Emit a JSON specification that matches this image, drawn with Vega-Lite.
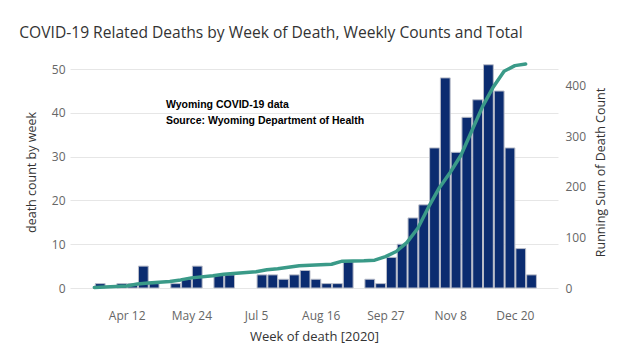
{
  "$schema": "https://vega.github.io/schema/vega-lite/v6.json",
  "width": 488,
  "height": 232,
  "autosize": {"type": "none"},
  "padding": {"left": 70, "top": 56, "right": 67, "bottom": 75},
  "background": "white",
  "config": {
    "view": {"stroke": null},
    "font": "Open Sans",
    "axis": {"labelFont": "Open Sans", "titleFont": "Open Sans", "labelColor": "#666666", "titleColor": "#333333", "titleFontWeight": "normal", "labelFontSize": 12, "titleFontSize": 12.5}
  },
  "title": {
    "text": "COVID-19 Related Deaths by Week of Death, Weekly Counts and Total",
    "anchor": "start",
    "frame": "bounds",
    "fontSize": 15.6,
    "fontWeight": "normal",
    "color": "#333333",
    "font": "Open Sans",
    "dx": -6,
    "offset": 14
  },
  "data": {
    "values": [
      {"week": "2020/03/22", "deaths": 1, "total": 1},
      {"week": "2020/04/05", "deaths": 1, "total": 3},
      {"week": "2020/04/12", "deaths": 1, "total": 4},
      {"week": "2020/04/19", "deaths": 5, "total": 8},
      {"week": "2020/04/26", "deaths": 1, "total": 10},
      {"week": "2020/05/10", "deaths": 1, "total": 13},
      {"week": "2020/05/17", "deaths": 2, "total": 16},
      {"week": "2020/05/24", "deaths": 5, "total": 20},
      {"week": "2020/06/07", "deaths": 3, "total": 24},
      {"week": "2020/06/14", "deaths": 3, "total": 27},
      {"week": "2020/07/05", "deaths": 3, "total": 32},
      {"week": "2020/07/12", "deaths": 3, "total": 36},
      {"week": "2020/07/19", "deaths": 2, "total": 38},
      {"week": "2020/07/26", "deaths": 3, "total": 41},
      {"week": "2020/08/02", "deaths": 4, "total": 44},
      {"week": "2020/08/09", "deaths": 2, "total": 45},
      {"week": "2020/08/16", "deaths": 1, "total": 46},
      {"week": "2020/08/23", "deaths": 1, "total": 47},
      {"week": "2020/08/30", "deaths": 6, "total": 53},
      {"week": "2020/09/13", "deaths": 2, "total": 54},
      {"week": "2020/09/20", "deaths": 1, "total": 55},
      {"week": "2020/09/27", "deaths": 7, "total": 62},
      {"week": "2020/10/04", "deaths": 10, "total": 72},
      {"week": "2020/10/11", "deaths": 16, "total": 90},
      {"week": "2020/10/18", "deaths": 19, "total": 118},
      {"week": "2020/10/25", "deaths": 32, "total": 160},
      {"week": "2020/11/01", "deaths": 48, "total": 198},
      {"week": "2020/11/08", "deaths": 31, "total": 228},
      {"week": "2020/11/15", "deaths": 39, "total": 262},
      {"week": "2020/11/22", "deaths": 43, "total": 310},
      {"week": "2020/11/29", "deaths": 51, "total": 358},
      {"week": "2020/12/06", "deaths": 45, "total": 397},
      {"week": "2020/12/13", "deaths": 32, "total": 428},
      {"week": "2020/12/20", "deaths": 9, "total": 439},
      {"week": "2020/12/27", "deaths": 3, "total": 442}
    ],
    "format": {"parse": {"week": "date"}}
  },
  "layer": [
    {
      "layer": [
        {
          "mark": {"type": "bar", "color": "#0b2c70", "stroke": "#b9bdc9", "strokeWidth": 1},
          "encoding": {
            "x": {
              "field": "week",
              "timeUnit": "yearweek",
              "type": "temporal",
              "scale": {"domain": [{"year": 2020, "month": 3, "date": 6, "hours": 5}, {"year": 2021, "month": 1, "date": 17}]},
              "axis": {
                "title": "Week of death [2020]",
                "values": [
                  {"year": 2020, "month": 4, "date": 12},
                  {"year": 2020, "month": 5, "date": 24},
                  {"year": 2020, "month": 7, "date": 5},
                  {"year": 2020, "month": 8, "date": 16},
                  {"year": 2020, "month": 9, "date": 27},
                  {"year": 2020, "month": 11, "date": 8},
                  {"year": 2020, "month": 12, "date": 20}
                ],
                "format": "%b %-d",
                "grid": false,
                "domain": false,
                "ticks": false,
                "labelPadding": 22,
                "titlePadding": 9,
                "titleFontSize": 13,
                "labelFlush": false
              }
            },
            "y": {
              "field": "deaths",
              "type": "quantitative",
              "scale": {"domain": [0, 53], "nice": false},
              "axis": {
                "title": "death count by week",
                "values": [0, 10, 20, 30, 40, 50],
                "grid": true,
                "gridColor": "#e6e6e6",
                "domain": false,
                "ticks": false,
                "labelPadding": 5,
                "titlePadding": 13
              }
            }
          }
        },
        {
          "data": {"values": [{}]},
          "mark": {"type": "text", "align": "left", "baseline": "middle", "font": "Liberation Sans", "fontWeight": "bold", "fontSize": 10.5, "color": "#000000"},
          "encoding": {
            "x": {"datum": {"year": 2020, "month": 5, "date": 7, "hours": 12}, "type": "temporal"},
            "y": {"datum": 41.85, "type": "quantitative"},
            "text": {"value": "Wyoming COVID-19 data"}
          }
        },
        {
          "data": {"values": [{}]},
          "mark": {"type": "text", "align": "left", "baseline": "middle", "font": "Liberation Sans", "fontWeight": "bold", "fontSize": 10.5, "color": "#000000"},
          "encoding": {
            "x": {"datum": {"year": 2020, "month": 5, "date": 7, "hours": 12}, "type": "temporal"},
            "y": {"datum": 38.05, "type": "quantitative"},
            "text": {"value": "Source: Wyoming Department of Health"}
          }
        }
      ]
    },
    {
      "mark": {"type": "line", "color": "#3a9a88", "strokeWidth": 3.5, "strokeCap": "round", "strokeJoin": "round"},
      "encoding": {
        "x": {"field": "week", "type": "temporal"},
        "y": {
          "field": "total",
          "type": "quantitative",
          "scale": {"domain": [0, 458], "nice": false},
          "axis": {
            "title": "Running Sum of Death Count",
            "orient": "right",
            "titleAngle": 270,
            "values": [0, 100, 200, 300, 400],
            "grid": false,
            "domain": false,
            "ticks": false,
            "labelPadding": 7,
            "titlePadding": 22
          }
        }
      }
    }
  ],
  "resolve": {"scale": {"y": "independent"}}
}
